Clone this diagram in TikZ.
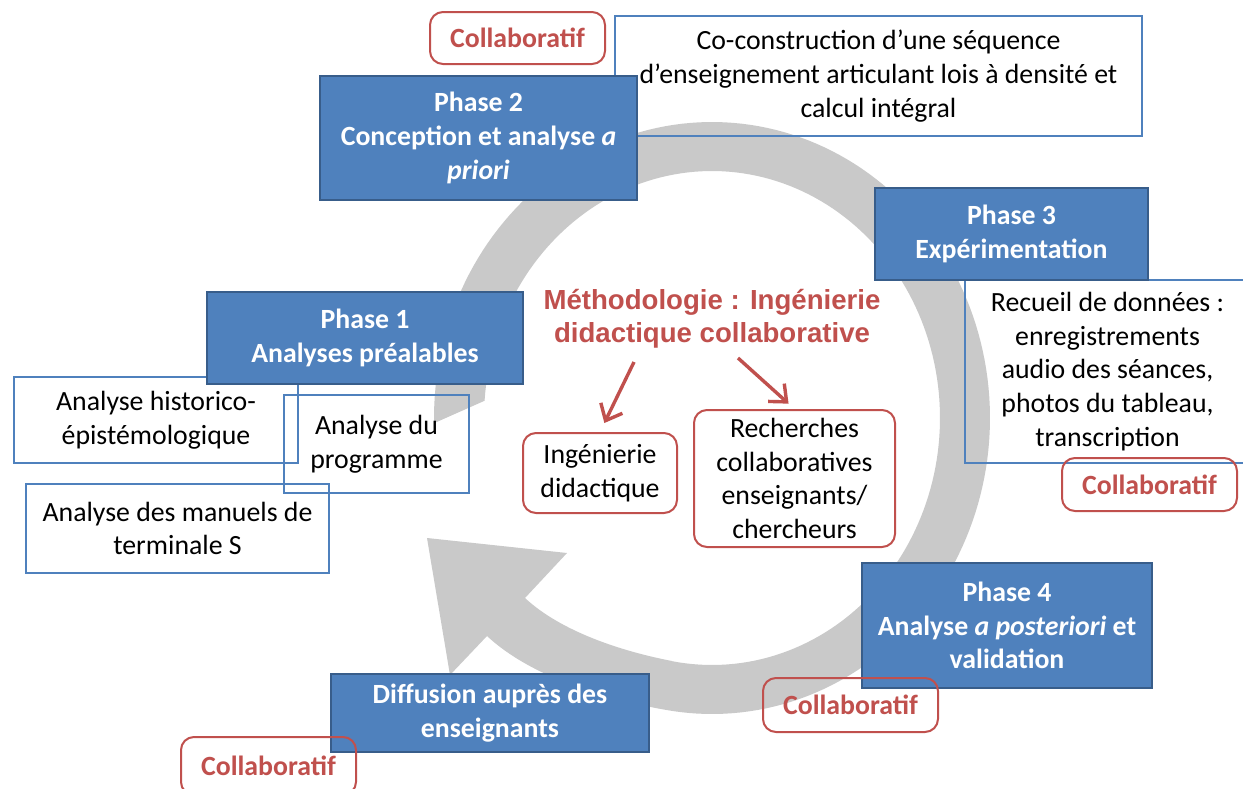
\documentclass[tikz,border=0pt]{standalone}
\usepackage{fontspec}
\setmainfont{Carlito}
\newfontfamily\titlefont{Liberation Sans}
\usetikzlibrary{arrows.meta}
\definecolor{pblue}{HTML}{4F81BD}
\definecolor{pbluedark}{HTML}{385D8A}
\definecolor{pred}{HTML}{C0504D}
\definecolor{ringgray}{HTML}{C9C9C9}
\begin{document}
\begin{tikzpicture}[x=0.5pt,y=-0.5pt,
  rect/.style args={#1/#2/#3/#4}{at={({(#1+#3)/2},{(#2+#4)/2})},
    minimum width={(#3-#1)*0.5pt}, minimum height={(#4-#2)*0.5pt}},
  txt/.style={font=\fontsize{13.9}{16.8}\selectfont, align=center, inner sep=0pt},
  outbox/.style={txt, draw=pblue, line width=1pt},
  phasebox/.style={txt, draw=pbluedark, fill=pblue, line width=1pt, text=white,
    font=\fontsize{13.9}{16.8}\selectfont\bfseries},
  redbox/.style={txt, draw=pred, line width=1pt, rounded corners=6.5pt},
  collab/.style={redbox, text=pred, font=\fontsize{13.9}{16.8}\selectfont\bfseries},
  redarrow/.style={draw=pred, line width=1.7pt, -{Straight Barb[length=7pt,width=12pt]}},
]
\useasboundingbox (0,0) rectangle (1243,788);
\fill[white] (0,0) rectangle (1243,788);

% circular arrow
\fill[ringgray]
  plot[domain=179:460,samples=160] ({712+278*cos(\x)},{418+296*sin(\x)})
  .. controls (605,699) and (531,677) .. (487,636)
  -- (450,675) -- (427,538) -- (567,553) -- (525,598)
  .. controls (561.5,632) and (623,651.6) .. (672,661)
  -- plot[domain=460:184,samples=160] ({712+228*cos(\x)},{418+247*sin(\x)})
  -- cycle;

% outline boxes
\node[outbox, rect=615/16/1142/136] (coc)
  {Co-construction d’une séquence\\d’enseignement articulant lois à densité et\\calcul intégral};
\node[outbox, rect=965/280/1250/463] (rec)
  {Recueil de données :\\enregistrements\\audio des séances,\\photos du tableau,\\transcription};
\node[outbox, rect=14/377/298/463] (hist) {Analyse historico-\\épistémologique};
\node[outbox, rect=284/395/469/493] (prog) {Analyse du\\programme};
\node[outbox, rect=26/484/329/573] (man) {Analyse des manuels de\\terminale S};

% phase boxes
\node[phasebox, rect=320/76/637/200] (p2)
  {Phase 2\\Conception et analyse \textit{a}\\\textit{priori}};
\node[phasebox, rect=875/188/1148/280] (p3) {Phase 3\\Expérimentation};
\node[phasebox, rect=207/292/523/384] (p1) {Phase 1\\Analyses préalables};
\node[phasebox, rect=862/563/1152/688] (p4)
  {Phase 4\\Analyse \textit{a posteriori} et\\validation};
\node[phasebox, rect=331/674/649/752] (diff) {Diffusion auprès des\\enseignants};

% red boxes
\node[collab, rect=430/12/605/64] (c2) {Collaboratif};
\node[collab, rect=1062/458/1237/511] (c3) {Collaboratif};
\node[collab, rect=763/678/938/732] (c4) {Collaboratif};
\node[collab, rect=181/737/356/795] (c5) {Collaboratif};
\node[redbox, rect=523/433/677/513] (ing) {Ingénierie\\didactique};
\node[redbox, rect=694/410/895/547] (rech)
  {Recherches\\collaboratives\\enseignants/\\chercheurs};

% title and arrows
\node[text=pred, align=center, inner sep=0pt,
  font=\titlefont\bfseries\fontsize{13.8}{16.5}\selectfont] (meth) at (712,319)
  {Méthodologie : Ingénierie\\didactique collaborative};
\coordinate (a1) at (634,362);
\coordinate (a2) at (738,358);
\draw[redarrow, shorten >=5pt] (a1) -- (ing.north);
\draw[redarrow, shorten >=4pt] (a2) -- (rech.north);
\end{tikzpicture}
\end{document}
